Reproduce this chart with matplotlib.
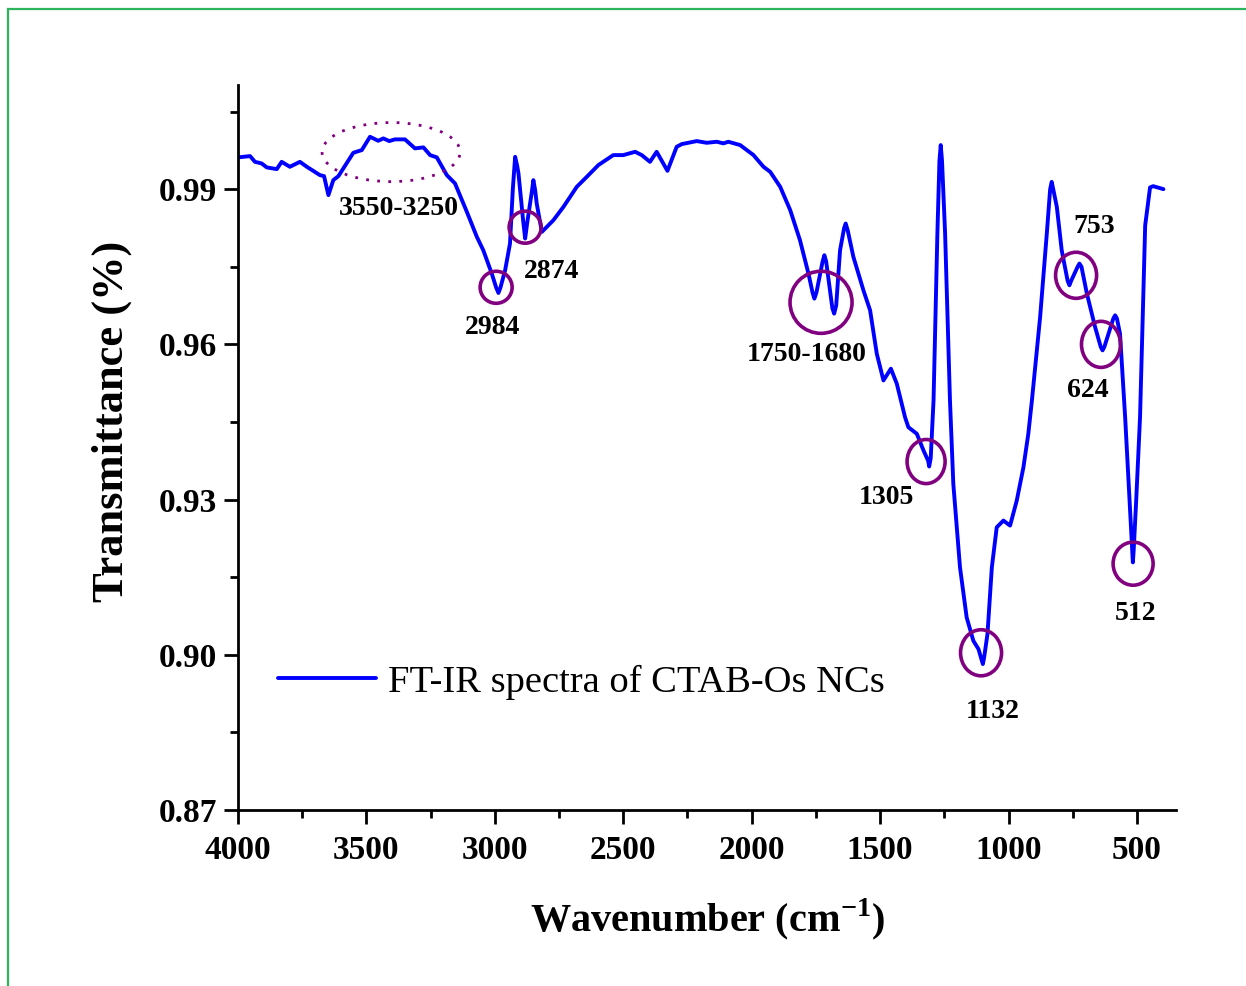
import matplotlib
matplotlib.use("Agg")
import matplotlib.pyplot as plt
from matplotlib.patches import Ellipse, Rectangle
from matplotlib.ticker import FixedLocator

plt.rcParams['font.family'] = ['Liberation Serif', 'DejaVu Serif']
plt.rcParams['mathtext.fontset'] = 'custom'
plt.rcParams['mathtext.rm'] = 'Liberation Serif'
plt.rcParams['mathtext.bf'] = 'Liberation Serif:bold'

# ---- data ----
wavenumber = [4000, 3953, 3934, 3908, 3888, 3849, 3830, 3798, 3759, 3732, 3681, 3665, 3648,
              3629, 3609, 3590, 3551, 3518, 3486, 3454, 3434, 3411, 3389, 3350, 3311, 3278,
              3252, 3226, 3187, 3155, 3109, 3070, 3045, 3012, 2995, 2986, 2978, 2960, 2941,
              2930, 2921, 2913, 2908, 2890, 2882, 2874, 2856, 2850, 2843, 2837, 2817, 2772,
              2733, 2681, 2642, 2597, 2539, 2500, 2454, 2428,
              2396, 2370, 2328, 2292, 2272, 2214, 2175, 2136, 2110, 2091, 2045, 1993, 1954,
              1928, 1889, 1850, 1812, 1779, 1763, 1756, 1748, 1724, 1717, 1710, 1686, 1679,
              1671, 1656, 1640, 1634, 1626, 1604, 1565, 1539,
              1513, 1487, 1458, 1435, 1403, 1390, 1357, 1331, 1313, 1309, 1303, 1292, 1277,
              1269, 1264, 1259, 1247,
              1228, 1215, 1189, 1163, 1137, 1117, 1105, 1100, 1095, 1082, 1065, 1046, 1020,
              994, 968, 942, 923, 909, 877, 851, 838, 832, 826, 812, 793, 770, 763, 756,
              731, 724, 716, 695, 663, 641, 634, 627, 592, 585, 578, 566,
              546, 529, 519, 516, 513, 503, 488, 468, 449, 437, 397]
transmittance = [0.99614, 0.99639, 0.99528, 0.99497, 0.99420, 0.99387, 0.99528, 0.99432,
                 0.99528, 0.99432, 0.99271, 0.99252, 0.98884, 0.99174, 0.99252, 0.99401,
                 0.99703, 0.99755, 1.00012, 0.99935, 0.99981, 0.99929, 0.99962, 0.99962,
                 0.99788, 0.99807, 0.99658, 0.99614, 0.99271, 0.99110, 0.98561, 0.98077,
                 0.97819, 0.97368, 0.97100, 0.96993, 0.97100, 0.97432, 0.97949, 0.99000,
                 0.99625, 0.99450, 0.99304, 0.98400, 0.98046, 0.98350, 0.98950, 0.99174,
                 0.98980, 0.98723, 0.98174, 0.98400, 0.98657, 0.99045, 0.99238, 0.99465,
                 0.99658, 0.99658, 0.99722, 0.99658, 0.99528, 0.99722, 0.99354, 0.99819,
                 0.99871, 0.99929, 0.99896, 0.99916, 0.99885, 0.99916, 0.99852, 0.99658,
                 0.99432, 0.99335, 0.99045, 0.98594, 0.98013, 0.97368, 0.97000, 0.96884,
                 0.97000, 0.97600, 0.97723, 0.97600, 0.96700, 0.96594, 0.96750, 0.97819,
                 0.98250, 0.98336, 0.98200, 0.97690, 0.97045, 0.96658, 0.95820, 0.95303,
                 0.95530, 0.95239, 0.94593, 0.94399, 0.94271, 0.93948, 0.93750, 0.93639,
                 0.93800, 0.94916, 0.98148, 0.99550, 0.99852, 0.99550, 0.98148, 0.94916,
                 0.93304, 0.91690, 0.90722, 0.90271, 0.90110, 0.89900, 0.89820, 0.89950,
                 0.90401, 0.91690, 0.92464, 0.92594, 0.92497, 0.92981, 0.93625, 0.94271,
                 0.94916, 0.96528, 0.98143, 0.99000, 0.99141, 0.99000, 0.98657, 0.97819,
                 0.97230, 0.97142, 0.97230, 0.97500, 0.97562, 0.97500, 0.96981, 0.96335,
                 0.95950, 0.95884, 0.95950, 0.96500, 0.96561, 0.96500, 0.96207, 0.94593,
                 0.92981, 0.92000, 0.91786, 0.92000, 0.92981, 0.94593, 0.98300, 0.99033,
                 0.99058, 0.99000]

x_ticks = [4000, 3500, 3000, 2500, 2000, 1500, 1000, 500]
x_tick_labels = ['4000', '3500', '3000', '2500', '2000', '1500', '1000', '500']
y_ticks = [0.87, 0.90, 0.93, 0.96, 0.99]
y_tick_labels = ['0.87', '0.90', '0.93', '0.96', '0.99']

peak_labels = ['3550-3250', '2984', '2874', '1750-1680', '1305', '1132', '753', '624', '512']
label_wn = [3373, 3007, 2781, 1784, 1477, 1060, 667, 690, 507]
label_t = [0.98632, 0.96329, 0.97413, 0.95806, 0.93039, 0.88897, 0.98284, 0.95110, 0.90794]

circle_wn = [2995, 2882, 1730, 1321, 1107, 737, 640, 515]
circle_t = [0.97103, 0.98265, 0.96813, 0.93735, 0.90039, 0.97335, 0.96000, 0.91761]
oh_band_wn = 3404
oh_band_t = 0.99716

series_name = 'FT-IR spectra of CTAB-Os NCs'

# ---- figure ----
fig = plt.figure(figsize=(12.46, 9.86), dpi=100)
fig.patches.append(Rectangle((8 / 1246, -0.05), 1.2, 1 - 9 / 986 + 0.05,
                             transform=fig.transFigure, fill=False,
                             edgecolor='#2DB35A', linewidth=1.6, zorder=0))
ax = fig.add_axes([238 / 1246, 1 - 810 / 986, 938 / 1246, 725 / 986])

ax.plot(wavenumber, transmittance, color='#0000FF', linewidth=2.8,
        solid_joinstyle='round', solid_capstyle='round', label=series_name)

ax.set_xlim(4000, 348)
ax.set_ylim(0.87, 1.01013)

ax.xaxis.set_major_locator(FixedLocator(x_ticks))
ax.set_xticklabels(x_tick_labels)
ax.xaxis.set_minor_locator(FixedLocator([3750, 3250, 2750, 2250, 1750, 1250, 750]))
ax.yaxis.set_major_locator(FixedLocator(y_ticks))
ax.set_yticklabels(y_tick_labels)
ax.yaxis.set_minor_locator(FixedLocator([0.885, 0.915, 0.945, 0.975, 1.005]))

for s in ['top', 'right']:
    ax.spines[s].set_visible(False)
for s in ['left', 'bottom']:
    ax.spines[s].set_linewidth(2.0)

ax.tick_params(which='major', direction='out', length=10, width=2.0)
ax.tick_params(which='minor', direction='out', length=5.5, width=2.0)
ax.tick_params(axis='x', which='major', pad=8)
ax.tick_params(axis='y', which='major', pad=5)
for lab in ax.get_xticklabels() + ax.get_yticklabels():
    lab.set_fontsize(24)
    lab.set_fontweight('bold')

ax.set_xlabel(r'Wavenumber (cm$^{\mathbf{-1}}$)', fontsize=29, fontweight='bold')
ax.xaxis.label.set_va('center')
ax.xaxis.set_label_coords(0.5, (810 - 919) / 725)
ax.set_ylabel('Transmittance (%)', fontsize=32, fontweight='bold')
ax.yaxis.label.set_va('center')
ax.yaxis.label.set_ha('center')
ax.yaxis.set_label_coords((112 - 238) / 938, (810 - 421) / 725)

# px -> data scale factors
wx = 500 / 128.4
hy = 0.03 / 155

circle_sizes = [(32, 32), (32, 32), (62, 62), (38, 44), (41, 46), (41, 46), (39, 46), (40, 43)]
for cw, ct, (pw, ph) in zip(circle_wn, circle_t, circle_sizes):
    ax.add_patch(Ellipse((cw, ct), pw * wx, ph * hy, fill=False,
                         edgecolor='#800080', linewidth=2.6, zorder=3))
ax.add_patch(Ellipse((oh_band_wn, oh_band_t), 138 * wx, 59 * hy, fill=False,
                     edgecolor='#800080', linewidth=2.0, linestyle=(0, (1, 3)),
                     zorder=3))

for txt, lx, ly in zip(peak_labels, label_wn, label_t):
    ax.text(lx, ly, txt, fontsize=20, fontweight='bold', ha='center', va='center')

ax.legend(loc='center left', bbox_to_anchor=((278 - 238) / 938, (810 - 682) / 725),
          frameon=False, fontsize=27.7, handlelength=2.55, handletextpad=0.3,
          borderpad=0, borderaxespad=0)

fig.savefig('out.png', dpi=100)
